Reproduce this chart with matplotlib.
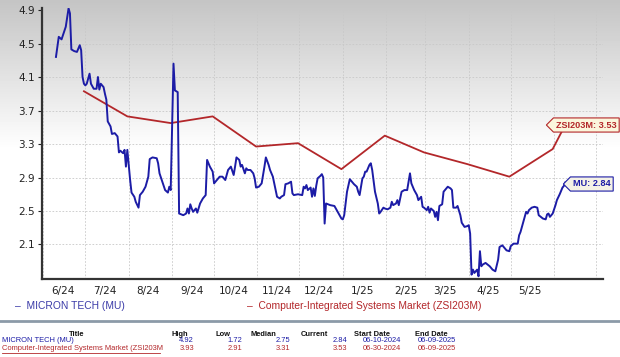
import numpy as np
import pandas as pd
import matplotlib
matplotlib.use("Agg")
import matplotlib.pyplot as plt
import matplotlib.dates as mdates
from matplotlib.path import Path

# MICRON TECH (MU): days after 2024-06-10 and price-ratio values
mu_days = [0, 2, 4, 5, 7, 9, 10, 11, 13, 15, 16, 17, 18, 19, 20, 21, 22, 24, 25, 27,
           29, 30, 31, 32, 34, 35, 36, 37, 39, 40, 42, 44, 45, 46, 48, 49, 50, 51, 53, 54,
           56, 57, 59, 60, 62, 64, 66, 67, 69, 72, 73, 74, 76, 78, 80, 81, 82, 84, 85, 87,
           88, 91, 93, 94, 95, 96, 97, 98, 100, 101, 103, 105, 107, 108, 110, 112, 113, 115, 117, 119,
           121, 123, 125, 127, 128, 129, 131, 132, 133, 135, 136, 137, 139, 141, 142, 143, 145, 147, 149, 150,
           152, 153, 155, 157, 158, 160, 161, 163, 164, 166, 168, 169, 170, 173, 176, 177, 178, 179, 180, 182,
           183, 184, 185, 186, 187, 189, 190, 191, 192, 193, 196, 199, 200, 202, 204, 205, 206, 207, 208, 210,
           212, 213, 215, 216, 217, 219, 220, 221, 222, 224, 225, 226, 228, 230, 231, 232, 234, 235, 237, 239,
           240, 241, 243, 244, 245, 247, 249, 251, 253, 254, 256, 258, 259, 261, 262, 263, 265, 266, 267, 268,
           270, 271, 272, 273, 274, 276, 277, 279, 280, 282, 283, 284, 286, 287, 289, 290, 292, 294, 295, 296,
           297, 298, 299, 301, 302, 303, 304, 305, 307, 310, 312, 314, 316, 317, 319, 320, 322, 324, 325, 327,
           330, 331, 332, 334, 336, 337, 338, 340, 342, 344, 345, 348, 350, 351, 352, 353, 355, 357, 358, 360,
           362, 363, 364]
mu_vals = [4.34, 4.58, 4.55, 4.60, 4.70, 4.92, 4.86, 4.43, 4.41, 4.40, 4.44, 4.48, 4.42, 4.10, 4.02, 4.00, 4.02, 4.14, 4.02, 3.96,
           3.96, 4.10, 3.95, 4.02, 3.98, 3.90, 3.83, 3.57, 3.51, 3.42, 3.43, 3.39, 3.20, 3.22, 3.19, 3.23, 3.03, 3.23, 2.87, 2.72,
           2.67, 2.61, 2.54, 2.69, 2.73, 2.79, 2.91, 3.12, 3.14, 3.13, 3.07, 2.95, 2.85, 2.75, 2.72, 2.79, 2.75, 4.26, 3.94, 3.92,
           2.47, 2.45, 2.47, 2.53, 2.47, 2.58, 2.53, 2.49, 2.53, 2.48, 2.59, 2.65, 2.69, 3.11, 3.03, 2.97, 2.83, 2.87, 2.91, 2.91,
           2.87, 2.99, 3.03, 2.93, 3.03, 3.14, 3.11, 3.03, 3.05, 2.95, 3.01, 2.99, 2.99, 2.95, 2.89, 2.78, 2.79, 2.83, 3.03, 3.14,
           3.05, 2.99, 2.91, 2.75, 2.67, 2.65, 2.67, 2.69, 2.82, 2.83, 2.85, 2.71, 2.69, 2.70, 2.69, 2.79, 2.77, 2.81, 2.75, 2.78,
           2.67, 2.77, 2.68, 2.80, 2.89, 2.92, 2.94, 2.90, 2.35, 2.59, 2.57, 2.56, 2.53, 2.47, 2.41, 2.40, 2.45, 2.59, 2.73, 2.88,
           2.84, 2.82, 2.79, 2.73, 2.69, 2.89, 2.91, 2.97, 2.97, 3.05, 3.07, 2.99, 2.73, 2.59, 2.47, 2.49, 2.54, 2.53, 2.52, 2.54,
           2.61, 2.57, 2.59, 2.63, 2.57, 2.73, 2.75, 2.75, 2.95, 2.83, 2.75, 2.69, 2.63, 2.67, 2.55, 2.54, 2.51, 2.55, 2.48, 2.53,
           2.50, 2.43, 2.49, 2.39, 2.56, 2.58, 2.73, 2.77, 2.79, 2.77, 2.75, 2.54, 2.54, 2.56, 2.45, 2.36, 2.31, 2.32, 2.33, 2.23,
           1.74, 1.80, 1.76, 1.80, 1.72, 2.02, 1.84, 1.86, 1.88, 1.84, 1.80, 1.78, 1.92, 2.07, 2.09, 2.07, 2.03, 2.02, 2.08, 2.11,
           2.11, 2.21, 2.25, 2.37, 2.49, 2.47, 2.51, 2.54, 2.55, 2.54, 2.45, 2.41, 2.40, 2.46, 2.47, 2.43, 2.47, 2.57, 2.63, 2.70,
           2.78, 2.80, 2.84]

# Computer-Integrated Systems Market (ZSI203M), month-end values
zsi_dates = ["2024-06-30", "2024-07-31", "2024-08-31", "2024-09-30", "2024-10-31", "2024-11-30",
             "2024-12-31", "2025-01-31", "2025-02-28", "2025-03-31", "2025-04-30", "2025-05-31", "2025-06-09"]
zsi_vals = [3.93, 3.63, 3.55, 3.63, 3.27, 3.31, 3.00, 3.40, 3.20, 3.06, 2.91, 3.24, 3.53]

yticks = [2.1, 2.5, 2.9, 3.3, 3.7, 4.1, 4.5, 4.9]
xtick_months = ["6/24", "7/24", "8/24", "9/24", "10/24", "11/24", "12/24",
                "1/25", "2/25", "3/25", "4/25", "5/25"]

table_cols = ["Title", "High", "Low", "Median", "Current", "Start Date", "End Date"]
table_rows = [
    ["MICRON TECH (MU)", "4.92", "1.72", "2.75", "2.84", "06-10-2024", "06-09-2025"],
    ["Computer-Integrated Systems Market (ZSI203M", "3.93", "2.91", "3.31", "3.53", "06-30-2024", "06-09-2025"],
]

blue = "#1c1ca6"
red = "#b3272a"

mu_x = pd.Timestamp("2024-06-10") + pd.to_timedelta(mu_days, unit="D")
zsi_x = pd.to_datetime(zsi_dates)
# month labels sit mid-month, grid lines on the 1st
xtick_pos = [pd.to_datetime(m, format="%m/%y") + pd.Timedelta(days=14) for m in xtick_months]


def tag_box(x0, y0, width, height, mutation_size):
    # box with a pointed left end, like a price tag
    pad = mutation_size * 0.28
    x0, y0 = x0 - pad, y0 - pad
    width, height = width + 2 * pad, height + 2 * pad
    tip = height * 0.5
    verts = [(x0 - tip, y0 + height / 2), (x0, y0), (x0 + width, y0),
             (x0 + width, y0 + height), (x0, y0 + height), (x0 - tip, y0 + height / 2)]
    codes = [Path.MOVETO] + [Path.LINETO] * 4 + [Path.CLOSEPOLY]
    return Path(verts, codes)


fig = plt.figure(figsize=(6.2, 3.57), dpi=100)

# gray-to-white background gradient behind the chart
bg = fig.add_axes([0, 0, 1, 1], zorder=-5)
rows = np.linspace(0, 1, 357)
shade = np.clip(0.77 + 0.23 * rows / 0.42, 0, 1)
shade[rows > 0.42] = 1.0
bg.imshow(np.repeat(shade[:, None], 2, axis=1), cmap="gray", vmin=0, vmax=1,
          aspect="auto", extent=[0, 1, 0, 1], origin="upper")
bg.set_xlim(0, 1)
bg.set_ylim(0, 1)
bg.axis("off")

ax = fig.add_axes([0.0677, 0.2185, 0.905, 0.759])
ax.patch.set_alpha(0)

ax.plot(zsi_x, zsi_vals, color=red, lw=1.3, zorder=3)
ax.plot(mu_x, mu_vals, color=blue, lw=1.4, zorder=4)

ax.set_ylim(1.688, 4.924)
ax.set_xlim(pd.Timestamp("2024-05-31"), pd.Timestamp("2025-07-06"))
ax.set_yticks(yticks)
ax.set_yticklabels([f"{v:.1f}" for v in yticks])

ax.set_xticks(xtick_pos)
ax.set_xticklabels(xtick_months)
ax.xaxis.set_minor_locator(mdates.MonthLocator(bymonthday=1))
ax.grid(True, which="minor", axis="x", color="#c8c8c8", ls=(0, (2, 2)), lw=0.6)
ax.grid(True, which="major", axis="y", color="#c8c8c8", ls=(0, (2, 2)), lw=0.6)
ax.tick_params(axis="x", which="both", length=0, labelsize=7.5, pad=5, colors="#222222")
ax.tick_params(axis="y", length=3, width=0.8, labelsize=7.5, pad=2, colors="#222222")

for s in ["top", "right"]:
    ax.spines[s].set_visible(False)
for s in ["left", "bottom"]:
    ax.spines[s].set_color("#333333")
    ax.spines[s].set_linewidth(1.6)

# end-value tags
tagfont = dict(family="Liberation Sans", fontsize=6.6, fontweight="bold")
ax.annotate(f"ZSI203M: {zsi_vals[-1]:.2f}", xy=(zsi_x[-1], zsi_vals[-1]),
            xytext=(556, 357 - 125), textcoords="figure pixels", va="center", ha="left",
            color=red, annotation_clip=False, zorder=6,
            bbox=dict(boxstyle=tag_box, fc="#fbf6dc", ec=red, lw=0.8), **tagfont)
ax.annotate(f"MU: {mu_vals[-1]:.2f}", xy=(mu_x[-1], mu_vals[-1]),
            xytext=(573, 357 - 184), textcoords="figure pixels", va="center", ha="left",
            color=blue, annotation_clip=False, zorder=6,
            bbox=dict(boxstyle=tag_box, fc="#f4f2e6", ec=blue, lw=0.8), **tagfont)

# legend line
legfont = dict(family="Liberation Sans", fontsize=7.4)
fig.text(15 / 620, 1 - 306 / 357, "–  MICRON TECH (MU)", color="#3b3ba8",
         va="center", ha="left", **legfont)
fig.text(247 / 620, 1 - 306 / 357, "–  Computer-Integrated Systems Market (ZSI203M)",
         color=red, va="center", ha="left", **legfont)

fig.add_artist(plt.Line2D([0, 1], [1 - 321 / 357] * 2, color="#8c9aa8", lw=2))

# summary table
head_x = [77, 180, 223, 263, 314, 372, 431]
val_x = [2, 194, 242, 290, 347, 401, 456]
tfont = dict(family="Liberation Sans", fontsize=5.4)
for name, hx in zip(table_cols, head_x):
    fig.text(hx / 620, 1 - 334 / 357, name, ha="center", va="center",
             fontweight="bold", color="#111111", **tfont)
for row, yy, col in zip(table_rows, [341, 349], [blue, red]):
    for j, (cell, vx) in enumerate(zip(row, val_x)):
        fig.text(vx / 620, 1 - yy / 357, cell, ha="left" if j == 0 else "right",
                 va="center", color=col, **tfont)
fig.add_artist(plt.Line2D([2 / 620, 160 / 620], [1 - 352.5 / 357] * 2,
                          color=red, lw=0.6))

fig.savefig("out.png", dpi=100)
